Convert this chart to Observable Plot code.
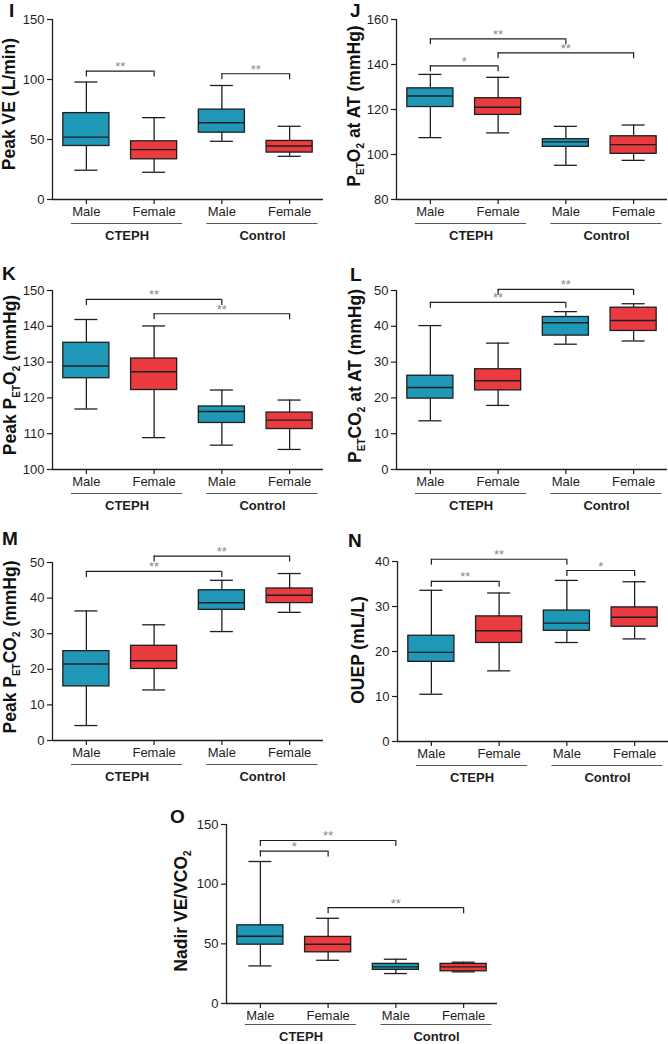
<!DOCTYPE html>
<html><head><meta charset="utf-8">
<script src="https://cdn.jsdelivr.net/npm/d3@7"></script>
<script src="https://cdn.jsdelivr.net/npm/@observablehq/plot@0.6"></script>
<style>
body{margin:0;background:#fff;}
#root{position:relative;width:668px;height:1044px;overflow:hidden;font-family:"Liberation Sans",Arial,sans-serif;background:#fff;}
#root svg{position:absolute;}
</style></head><body><div id="root"></div>
<script>
const categories = ["Male","Female","Male","Female"];
const groups = ["CTEPH","Control"];
const sexes = ["Male","Female"];
const sexColors = ["#1f97b6","#ea3b41"];

// box stats per category: [min, q1, median, q3, max]
const peakVE      = [[24.4,44.6,52,72,97.9],[22.7,33.5,41.6,48.5,68.2],[48.5,55.7,64,74.9,95],[36,39.1,44.6,48.8,61]];
const petO2AtAT   = [[107.5,121.1,126,129.4,135.6],[109.6,117.6,121,125,134.3],[95.2,103.4,105.6,106.8,112.5],[97.4,100.3,104.4,108.1,113.1]];
const peakPetO2   = [[116.9,125.5,128.9,135.4,141.9],[108.9,122.2,127.3,131,140.1],[106.8,113,116.2,117.6,122.2],[105.6,111.3,113.8,115.9,119.4]];
const petCO2AtAT  = [[13.6,19.8,22.9,26.2,40.2],[17.9,22.1,24.8,28,35.3],[35,37.4,41,42.6,44.1],[35.9,38.7,41.6,45.2,46.3]];
const peakPetCO2  = [[4.2,15.2,21.5,25.1,36.4],[14.2,20.1,22.4,26.6,32.5],[30.6,36.7,38.7,42.2,45],[36,38.6,40.8,42.7,46.9]];
const ouep        = [[10.5,17.7,19.8,23.5,33.6],[15.7,21.9,24.6,27.8,33],[22,24.6,26.3,29.1,35.8],[22.8,25.5,27.6,29.8,35.5]];
const nadirVEVCO2 = [[31.5,49.3,56.3,65.5,119],[36.2,42.9,49.6,55.8,71.4],[25.1,28.2,30.7,33.2,37.1],[26.5,27.0,30.7,33.2,34.6]];

// significance brackets: [from category, to category, height, label]
const peakVESig      = [[0,1,107,"**"],[2,3,104.8,"**"]];
const petO2AtATSig   = [[0,2,151.4,"**"],[1,3,145.2,"**"],[0,1,139.4,"*"]];
const peakPetO2Sig   = [[0,2,147.5,"**"],[1,3,143.5,"**"]];
const petCO2AtATSig  = [[1,3,50.3,"**"],[0,2,46.7,"**"]];
const peakPetCO2Sig  = [[1,3,51.8,"**"],[0,2,47.5,"**"]];
const ouepSig        = [[0,2,40.5,"**"],[2,3,38,"*"],[0,1,35.6,"**"]];
const nadirVEVCO2Sig = [[0,2,136.6,"**"],[0,1,127.7,"*"],[1,3,80.3,"**"]];

// y ticks
const ticksI = [0,50,100,150];
const ticksJ = [80,100,120,140,160];
const ticksK = [100,110,120,130,140,150];
const ticksL = [0,10,20,30,40,50];
const ticksM = [0,10,20,30,40,50];
const ticksN = [0,10,20,30,40];
const ticksO = [0,50,100,150];

// y-axis titles as [text, isSubscript] segments
const titleI = [["Peak VE (L/min)",0]];
const titleJ = [["P",0],["ET",1],["O",0],["2",1],[" at AT (mmHg)",0]];
const titleK = [["Peak P",0],["ET",1],["O",0],["2",1],[" (mmHg)",0]];
const titleL = [["P",0],["ET",1],["CO",0],["2",1],[" at AT (mmHg)",0]];
const titleM = [["Peak P",0],["ET",1],["CO",0],["2",1],[" (mmHg)",0]];
const titleN = [["OUEP (mL/L)",0]];
const titleO = [["Nadir VE/VCO",0],["2",1]];

const ink = "#1e1e1e";
const font = "'Liberation Sans', Arial, sans-serif";
const boxHalf = 0.34, capHalf = 0.17, groupShift = 0.1, underlineHalf = 0.82;

const panels = [
  {letter:"I", data:peakVE, sig:peakVESig, yDomain:[0,150], ticks:ticksI, title:titleI, left:0, top:0, marginTop:19, marginLeft:52, width:334, plotH:180, letterPos:[9,17], titlePos:[15,104], groupDy:36},
  {letter:"J", data:petO2AtAT, sig:petO2AtATSig, yDomain:[80,160], ticks:ticksJ, title:titleJ, left:334, top:0, marginTop:19, marginLeft:62, width:334, plotH:180, letterPos:[350,17], titlePos:[360,106], groupDy:36},
  {letter:"K", data:peakPetO2, sig:peakPetO2Sig, yDomain:[100,150], ticks:ticksK, title:titleK, left:0, top:260, marginTop:30, marginLeft:52, width:334, plotH:179, letterPos:[2,280], titlePos:[16,375], groupDy:36},
  {letter:"L", data:petCO2AtAT, sig:petCO2AtATSig, yDomain:[0,50], ticks:ticksL, title:titleL, left:334, top:260, marginTop:30, marginLeft:62, width:334, plotH:179, letterPos:[350,281], titlePos:[361,376], groupDy:36},
  {letter:"M", data:peakPetCO2, sig:peakPetCO2Sig, yDomain:[0,50], ticks:ticksM, title:titleM, left:0, top:532, marginTop:30, marginLeft:52, width:334, plotH:178, letterPos:[2,545], titlePos:[16,647], groupDy:36},
  {letter:"N", data:ouep, sig:ouepSig, yDomain:[0,40], ticks:ticksN, title:titleN, left:334, top:531, marginTop:30, marginLeft:63, width:334, plotH:180, letterPos:[348,547], titlePos:[364,650], groupDy:36},
  {letter:"O", data:nadirVEVCO2, sig:nadirVEVCO2Sig, yDomain:[0,150], ticks:ticksO, title:titleO, left:160, top:794, marginTop:30, marginLeft:66, width:340, plotH:179, letterPos:[170,823], titlePos:[187,911], groupDy:33}
];

const root = document.getElementById("root");

for (const p of panels) {
  const rows = p.data.map((d, i) => ({i, sex: categories[i], min: d[0], q1: d[1], med: d[2], q3: d[3], max: d[4]}));
  const sig = p.sig.map(([a, b, y, label]) => ({a, b, y, label}));
  const grp = groups.map((g, k) => ({g, c: 2 * k + 0.5}));
  const y0 = p.yDomain[0];
  const mb = 46;
  const chart = Plot.plot({
    width: p.width,
    height: p.marginTop + p.plotH + mb,
    marginLeft: p.marginLeft,
    marginRight: p.width - p.marginLeft - 271,
    marginTop: p.marginTop,
    marginBottom: mb,
    x: {domain: [-0.5, 3.5], label: null},
    y: {domain: p.yDomain, label: null},
    color: {domain: sexes, range: sexColors},
    style: {fontFamily: font, fontSize: "13px", color: ink, background: "transparent", overflow: "visible"},
    marks: [
      Plot.ruleX(rows, {x: "i", y1: "min", y2: "max", stroke: ink, strokeWidth: 1.3}),
      Plot.ruleY(rows, {y: "min", x1: d => d.i - capHalf, x2: d => d.i + capHalf, stroke: ink, strokeWidth: 1.3}),
      Plot.ruleY(rows, {y: "max", x1: d => d.i - capHalf, x2: d => d.i + capHalf, stroke: ink, strokeWidth: 1.3}),
      Plot.rectY(rows, {x1: d => d.i - boxHalf, x2: d => d.i + boxHalf, y1: "q1", y2: "q3", fill: "sex", stroke: ink, strokeWidth: 1.3}),
      Plot.ruleY(rows, {y: "med", x1: d => d.i - boxHalf, x2: d => d.i + boxHalf, stroke: ink, strokeWidth: 1.4}),
      Plot.ruleY(sig, {y: "y", x1: "a", x2: "b", stroke: ink, strokeWidth: 1.2}),
      Plot.ruleX(sig, {x: "a", y1: "y", y2: "y", insetBottom: -6, stroke: ink, strokeWidth: 1.2}),
      Plot.ruleX(sig, {x: "b", y1: "y", y2: "y", insetBottom: -6, stroke: ink, strokeWidth: 1.2}),
      Plot.text(sig, {x: d => (d.a + d.b) / 2, y: "y", text: "label", lineAnchor: "bottom", dy: 0, fill: "#8a8a8a", fontSize: 13}),
      Plot.axisY({ticks: p.ticks, tickSize: 5, tickPadding: 3, fontSize: 13, label: null, stroke: ink, strokeWidth: 1.2}),
      Plot.ruleX([-0.5], {stroke: ink, strokeWidth: 1.3}),
      Plot.axisX({ticks: [0, 1, 2, 3], tickFormat: i => categories[i], tickSize: 5, tickPadding: 2, fontSize: 13, label: null, stroke: ink, strokeWidth: 1.2}),
      Plot.ruleY([y0], {stroke: ink, strokeWidth: 1.3}),
      Plot.ruleY(grp, {y: () => y0, x1: d => d.c + groupShift - underlineHalf, x2: d => d.c + groupShift + underlineHalf, dy: p.groupDy - 12, stroke: "#444", strokeWidth: 0.9}),
      Plot.text(grp, {x: d => d.c + groupShift, y: () => y0, text: "g", dy: p.groupDy, fontWeight: "bold", fontSize: 13, fill: ink})
    ]
  });
  chart.style.left = p.left + "px";
  chart.style.top = p.top + "px";
  root.appendChild(chart);
}

// overlay for panel letters and y-axis titles
const overlay = d3.select(root).append("svg")
  .attr("width", 668).attr("height", 1044)
  .style("left", "0px").style("top", "0px").style("pointer-events", "none")
  .attr("font-family", font);

for (const p of panels) {
  overlay.append("text")
    .attr("x", p.letterPos[0]).attr("y", p.letterPos[1])
    .attr("font-size", 19).attr("font-weight", "bold").attr("fill", "#111")
    .text(p.letter);
  const t = overlay.append("text")
    .attr("transform", `translate(${p.titlePos[0]},${p.titlePos[1]}) rotate(-90)`)
    .attr("text-anchor", "middle")
    .attr("font-size", 17.5).attr("font-weight", "bold").attr("fill", "#111");
  let shifted = false;
  for (const [s, sub] of p.title) {
    const ts = t.append("tspan").text(s);
    if (sub && !shifted) { ts.attr("dy", 4).attr("font-size", 10); shifted = true; }
    else if (sub) { ts.attr("font-size", 10); }
    else if (!sub && shifted) { ts.attr("dy", -4); shifted = false; }
  }
}
</script></body></html>
